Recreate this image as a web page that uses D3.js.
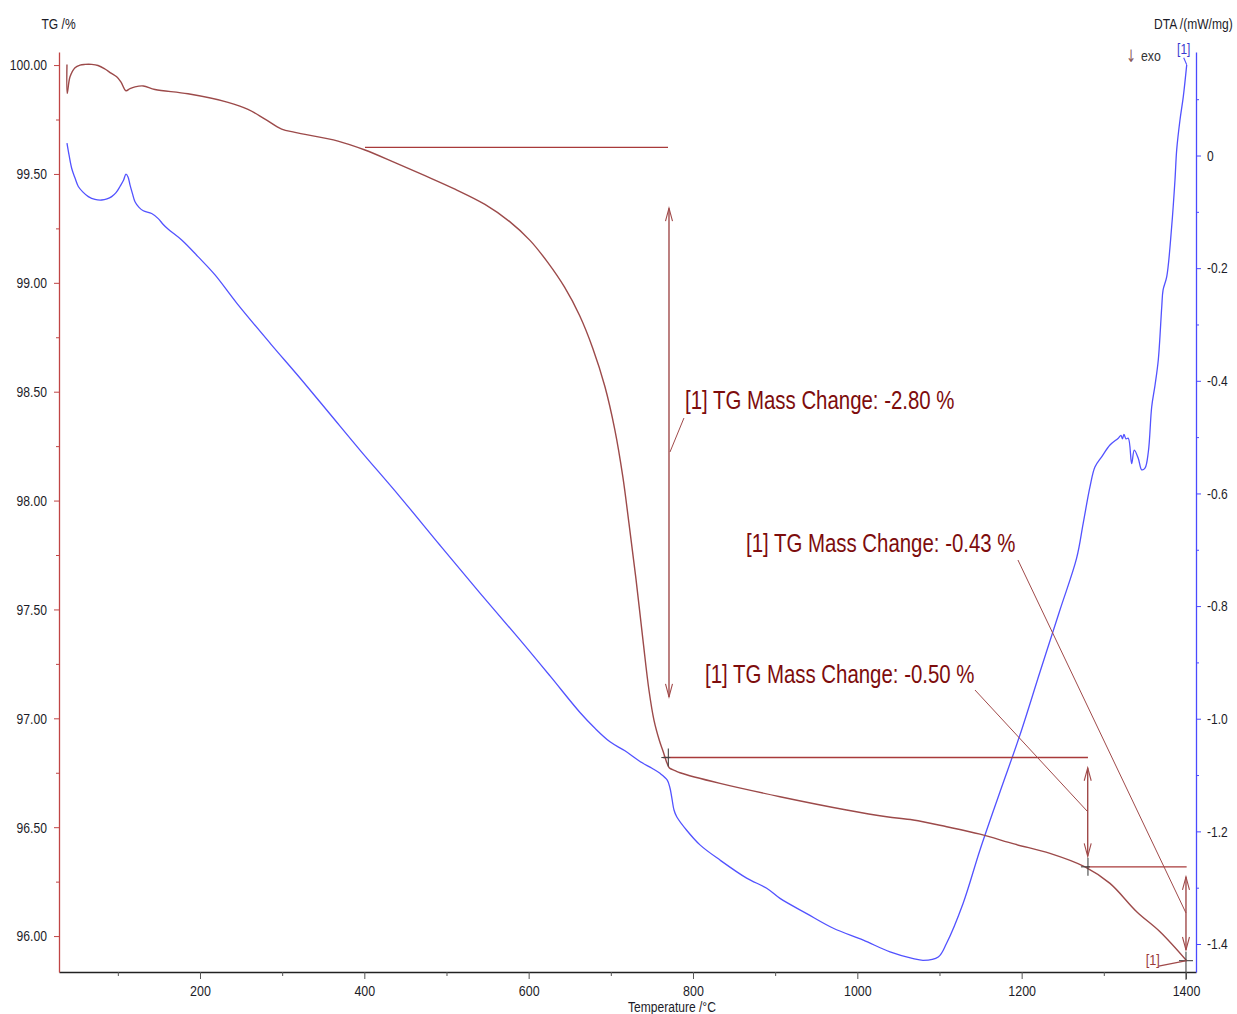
<!DOCTYPE html>
<html><head><meta charset="utf-8">
<script src="https://cdn.jsdelivr.net/npm/d3@7"></script>
<style>
html,body{margin:0;padding:0;background:#fff;}
svg{display:block;font-family:"Liberation Sans",Arial,sans-serif;}
</style></head><body>
<svg id="chart" width="1237" height="1014"></svg>
<script>
// ---------- data ----------
const tgTemp = [38.1,38.4,41.8,47.9,54.0,60.0,68.2,75.9,84.3,91.7,98.6,103.9,109.9,114.8,120.9,131.0,145.2,185.4,234.1,258.4,279.1,299.4,315.6,368.0,400.8,437.3,473.8,510.3,546.8,577.3,601.6,623.0,643.7,662.0,678.0,692.7,704.9,714.6,722.1,730.6,739.1,746.4,752.5,759.2,764.1,767.7,770.2,772.0,778.1,784.2,832.9,905.9,987.0,1035.7,1068.1,1108.8,1149.3,1191.9,1234.5,1277.1,1307.5,1340.0,1368.4,1400.8];
const tgValue = [100.003,99.870,99.946,99.988,100.000,100.003,100.003,99.998,99.982,99.963,99.946,99.922,99.882,99.892,99.900,99.904,99.888,99.868,99.829,99.797,99.752,99.706,99.691,99.651,99.610,99.552,99.492,99.430,99.360,99.280,99.195,99.095,98.980,98.850,98.700,98.525,98.325,98.110,97.895,97.640,97.360,97.130,96.992,96.897,96.843,96.801,96.778,96.770,96.760,96.750,96.701,96.640,96.579,96.548,96.533,96.502,96.468,96.422,96.380,96.318,96.242,96.112,96.020,95.887];

const dtaTemp = [38.1,40.6,43.9,47.9,51.9,57.6,64.1,72.2,80.4,86.8,92.5,97.8,102.6,106.9,109.9,112.4,114.8,117.9,120.9,125.8,131.0,141.2,149.2,155.0,161.4,177.7,197.9,218.3,244.7,285.2,321.7,358.2,394.7,443.4,492.1,540.8,589.5,626.0,662.5,680.7,699.0,717.2,735.5,750.1,759.8,768.7,772.0,774.1,776.9,780.2,792.3,808.5,832.9,865.3,889.7,905.9,938.4,970.8,1007.3,1039.8,1068.1,1080.3,1098.5,1108.5,1128.7,1149.3,1173.6,1197.9,1222.3,1246.6,1266.9,1274.9,1283.2,1289.2,1297.4,1307.5,1317.6,1320.9,1322.7,1324.5,1327.0,1329.8,1333.9,1337.1,1342.0,1346.1,1350.1,1354.2,1358.3,1362.3,1366.3,1370.5,1372.1,1376.6,1382.6,1386.6,1388.7,1392.7,1396.7,1400.9];
const dtaValue = [0.022,0.001,-0.023,-0.040,-0.055,-0.065,-0.073,-0.078,-0.079,-0.077,-0.073,-0.066,-0.055,-0.044,-0.033,-0.038,-0.052,-0.068,-0.082,-0.092,-0.098,-0.103,-0.112,-0.122,-0.131,-0.150,-0.180,-0.212,-0.262,-0.333,-0.395,-0.459,-0.523,-0.606,-0.692,-0.777,-0.860,-0.924,-0.989,-1.017,-1.041,-1.057,-1.076,-1.088,-1.097,-1.109,-1.123,-1.139,-1.162,-1.174,-1.198,-1.224,-1.251,-1.283,-1.301,-1.319,-1.346,-1.372,-1.393,-1.414,-1.426,-1.429,-1.423,-1.399,-1.328,-1.233,-1.130,-1.029,-0.917,-0.807,-0.715,-0.653,-0.588,-0.553,-0.535,-0.514,-0.502,-0.497,-0.503,-0.495,-0.503,-0.502,-0.547,-0.523,-0.538,-0.558,-0.555,-0.526,-0.446,-0.408,-0.363,-0.269,-0.239,-0.215,-0.126,-0.044,0.010,0.063,0.104,0.161];

const xTicks = [200,400,600,800,1000,1200,1400];
const xMinorTicks = [100,300,500,700,900,1100,1300];
const tgTicks = [96,96.5,97,97.5,98,98.5,99,99.5,100];
const tgMinorTicks = [96.25,96.75,97.25,97.75,98.25,98.75,99.25,99.75];
const dtaTicks = [0,-0.2,-0.4,-0.6,-0.8,-1.0,-1.2,-1.4];
const dtaMinorTicks = [0.1,-0.1,-0.3,-0.5,-0.7,-0.9,-1.1,-1.3];

// annotation geometry (data units: temperature, TG %)
const onsetT0 = [400.8, 763.5, 1278.9];
const onsetT1 = [769.6, 1280.7, 1400.8];
const onsetTG = [99.622, 96.820, 96.318];
const arrowT = [770.8, 1280.4, 1400.0];
const arrowTop = [99.343, 96.773, 96.272];
const arrowBottom = [97.098, 96.366, 95.936];
const crossT = [770.0, 1280.7, 1400.0];
const crossTG = [96.820, 96.318, 95.887];
const labelText = ["[1] TG Mass Change: -2.80 %", "[1] TG Mass Change: -0.43 %", "[1] TG Mass Change: -0.50 %"];
const labelT = [790.3, 864.5, 814.6];
const labelTG = [98.422, 97.764, 97.162];
const leaderT0 = [789.0, 1195.5, 1143.2];
const leaderTG0 = [98.379, 97.727, 97.130];
const leaderT1 = [772.0, 1400.0, 1280.4];
const leaderTG1 = [98.223, 96.106, 96.571];

// ---------- layout ----------
const plot = {left: 59, right: 1196, top: 52, bottom: 972};
const svg = d3.select("#chart");
const FONT = '"Liberation Sans", Arial, sans-serif';

const x = d3.scaleLinear().domain([28.4, 1412.2]).range([plot.left, plot.right]);
const yTG = d3.scaleLinear().domain([95.835, 100.06]).range([plot.bottom, plot.top]);
const yDTA = d3.scaleLinear().domain([-1.4497, 0.1838]).range([plot.bottom, plot.top]);

function squeeze(sel, f) {
  sel.each(function () {
    const w = this.getComputedTextLength();
    d3.select(this).attr("textLength", w * f).attr("lengthAdjust", "spacingAndGlyphs");
  });
}

const RED_AXIS = "#c04444", BLUE_AXIS = "#4a4aff", TG_COL = "#9c4a4a", DTA_COL = "#5252ff";
const ANN_COL = "#a04a4a", TXT_COL = "#7d0c0c", LINE_COL = "#a83a3a";

// ---------- axes ----------
const gx = svg.append("g").attr("transform", `translate(0,${plot.bottom})`)
  .call(d3.axisBottom(x).tickValues(xTicks).tickSize(7).tickPadding(6).tickSizeOuter(0).tickFormat(d3.format("d")));
gx.select(".domain").attr("stroke", "#222").attr("stroke-width", 1.3);
gx.selectAll(".tick line").attr("stroke", "#555");
gx.selectAll("text").attr("font-size", 15).attr("font-family", FONT).attr("fill", "#1c1c28").call(squeeze, 0.83);
const gxm = svg.append("g").attr("transform", `translate(0,${plot.bottom})`)
  .call(d3.axisBottom(x).tickValues(xMinorTicks).tickSize(4).tickFormat("").tickSizeOuter(0));
gxm.select(".domain").remove();
gxm.selectAll(".tick line").attr("stroke", "#555");

const gl = svg.append("g").attr("transform", `translate(${plot.left},0)`)
  .call(d3.axisLeft(yTG).tickValues(tgTicks).tickSize(5).tickPadding(7).tickSizeOuter(0).tickFormat(d3.format(".2f")));
gl.select(".domain").attr("stroke", RED_AXIS).attr("stroke-width", 1.3);
gl.selectAll(".tick line").attr("stroke", RED_AXIS);
gl.selectAll("text").attr("font-size", 15).attr("font-family", FONT).attr("fill", "#1c1c28").call(squeeze, 0.81);
const glm = svg.append("g").attr("transform", `translate(${plot.left},0)`)
  .call(d3.axisLeft(yTG).tickValues(tgMinorTicks).tickSize(3).tickFormat("").tickSizeOuter(0));
glm.select(".domain").remove();
glm.selectAll(".tick line").attr("stroke", RED_AXIS);

const gr = svg.append("g").attr("transform", `translate(${plot.right},0)`)
  .call(d3.axisRight(yDTA).tickValues(dtaTicks).tickSize(5).tickPadding(6).tickSizeOuter(0)
    .tickFormat(d => d === 0 ? "0" : d.toFixed(1)));
gr.select(".domain").attr("stroke", BLUE_AXIS).attr("stroke-width", 1.3);
gr.selectAll(".tick line").attr("stroke", BLUE_AXIS);
gr.selectAll("text").attr("font-size", 15).attr("font-family", FONT).attr("fill", "#1c1c28").call(squeeze, 0.80);
const grm = svg.append("g").attr("transform", `translate(${plot.right},0)`)
  .call(d3.axisRight(yDTA).tickValues(dtaMinorTicks).tickSize(3).tickFormat("").tickSizeOuter(0));
grm.select(".domain").remove();
grm.selectAll(".tick line").attr("stroke", BLUE_AXIS);

// axis titles
svg.append("text").attr("x", 41.5).attr("y", 29).attr("font-size", 14).attr("fill", "#1c1c28").text("TG /%").call(squeeze, 0.86);
svg.append("text").attr("transform", "translate(1154,29) scale(0.86,1)").attr("font-size", 14)
  .attr("fill", "#1c1c28").text("DTA /(mW/mg)");
svg.append("text").attr("x", 672).attr("y", 1012).attr("text-anchor", "middle").attr("font-size", 14).attr("fill", "#1c1c28").text("Temperature /°C").call(squeeze, 0.86);

// exo marker
svg.append("text").attr("x", 1126).attr("y", 62).attr("font-size", 17).attr("fill", "#8a5a5a")
  .attr("font-family", '"DejaVu Sans", sans-serif').text("↓").call(squeeze, 0.7);
svg.append("text").attr("x", 1141).attr("y", 61).attr("font-size", 14).attr("fill", "#333").text("exo").call(squeeze, 0.88);

// ---------- curves ----------
const tgData = tgTemp.map((t, i) => [t, tgValue[i]]);
const dtaData = dtaTemp.map((t, i) => [t, dtaValue[i]]);

svg.append("path").datum(dtaData)
  .attr("fill", "none").attr("stroke", DTA_COL).attr("stroke-width", 1.3)
  .attr("d", d3.line().x(d => x(d[0])).y(d => yDTA(d[1])).curve(d3.curveCatmullRom.alpha(0.5)));

// blue [1] label + hook
const lastD = dtaData[dtaData.length - 1];
svg.append("path").attr("fill", "none").attr("stroke", DTA_COL).attr("stroke-width", 1.1)
  .attr("d", `M${x(lastD[0])},${yDTA(lastD[1])} L${x(lastD[0]) - 3},${yDTA(lastD[1]) - 7}`);
svg.append("text").attr("x", x(lastD[0]) - 3).attr("y", yDTA(lastD[1]) - 11).attr("text-anchor", "middle")
  .attr("font-size", 14).attr("fill", "#3a3ad0").text("[1]").call(squeeze, 0.85);

svg.append("path").datum(tgData)
  .attr("fill", "none").attr("stroke", TG_COL).attr("stroke-width", 1.4)
  .attr("d", d3.line().x(d => x(d[0])).y(d => yTG(d[1])).curve(d3.curveCatmullRom.alpha(0.5)));

// ---------- annotations ----------
const ann = svg.append("g");
onsetTG.forEach((v, i) => {
  ann.append("line").attr("x1", x(onsetT0[i])).attr("x2", x(onsetT1[i]))
    .attr("y1", yTG(v)).attr("y2", yTG(v)).attr("stroke", LINE_COL).attr("stroke-width", 1.4);
});
arrowT.forEach((t, i) => {
  const ax = x(t), y0 = yTG(arrowTop[i]), y1 = yTG(arrowBottom[i]);
  ann.append("line").attr("x1", ax).attr("x2", ax).attr("y1", y0).attr("y2", y1)
    .attr("stroke", ANN_COL).attr("stroke-width", 1.4);
  ann.append("path").attr("fill", "none").attr("stroke", ANN_COL).attr("stroke-width", 1.1)
    .attr("d", `M${ax - 3.5},${y0 + 13} L${ax},${y0} L${ax + 3.5},${y0 + 13}`);
  ann.append("path").attr("fill", "none").attr("stroke", ANN_COL).attr("stroke-width", 1.1)
    .attr("d", `M${ax - 3.5},${y1 - 13} L${ax},${y1} L${ax + 3.5},${y1 - 13}`);
});
crossT.forEach((t, i) => {
  const cx = x(t), cy = yTG(crossTG[i]);
  ann.append("line").attr("x1", cx).attr("x2", cx).attr("y1", cy - 9).attr("y2", cy + (i === 2 ? 19 : 9))
    .attr("stroke", "#444").attr("stroke-width", 1.1);
  ann.append("line").attr("x1", cx - 7).attr("x2", cx + (i === 2 ? 7 : 2)).attr("y1", cy).attr("y2", cy)
    .attr("stroke", "#444").attr("stroke-width", 1.1);
});
labelText.forEach((s, i) => {
  ann.append("line").attr("x1", x(leaderT0[i])).attr("y1", yTG(leaderTG0[i]))
    .attr("x2", x(leaderT1[i])).attr("y2", yTG(leaderTG1[i]))
    .attr("stroke", ANN_COL).attr("stroke-width", 1);
  ann.append("text").attr("x", x(labelT[i])).attr("y", yTG(labelTG[i]))
    .attr("font-size", 25).attr("fill", TXT_COL).text(s).call(squeeze, 0.816);
});
// [1] marker at end of TG curve
const lastT = tgData[tgData.length - 1];
ann.append("line").attr("x1", x(lastT[0]) - 28).attr("y1", yTG(lastT[1]) + 5.5)
  .attr("x2", x(lastT[0])).attr("y2", yTG(lastT[1])).attr("stroke", ANN_COL).attr("stroke-width", 1.2);
ann.append("text").attr("x", x(lastT[0]) - 41).attr("y", yTG(lastT[1]) + 4)
  .attr("font-size", 15).attr("fill", "#9a3a3a").text("[1]").call(squeeze, 0.85);
</script>
</body></html>
